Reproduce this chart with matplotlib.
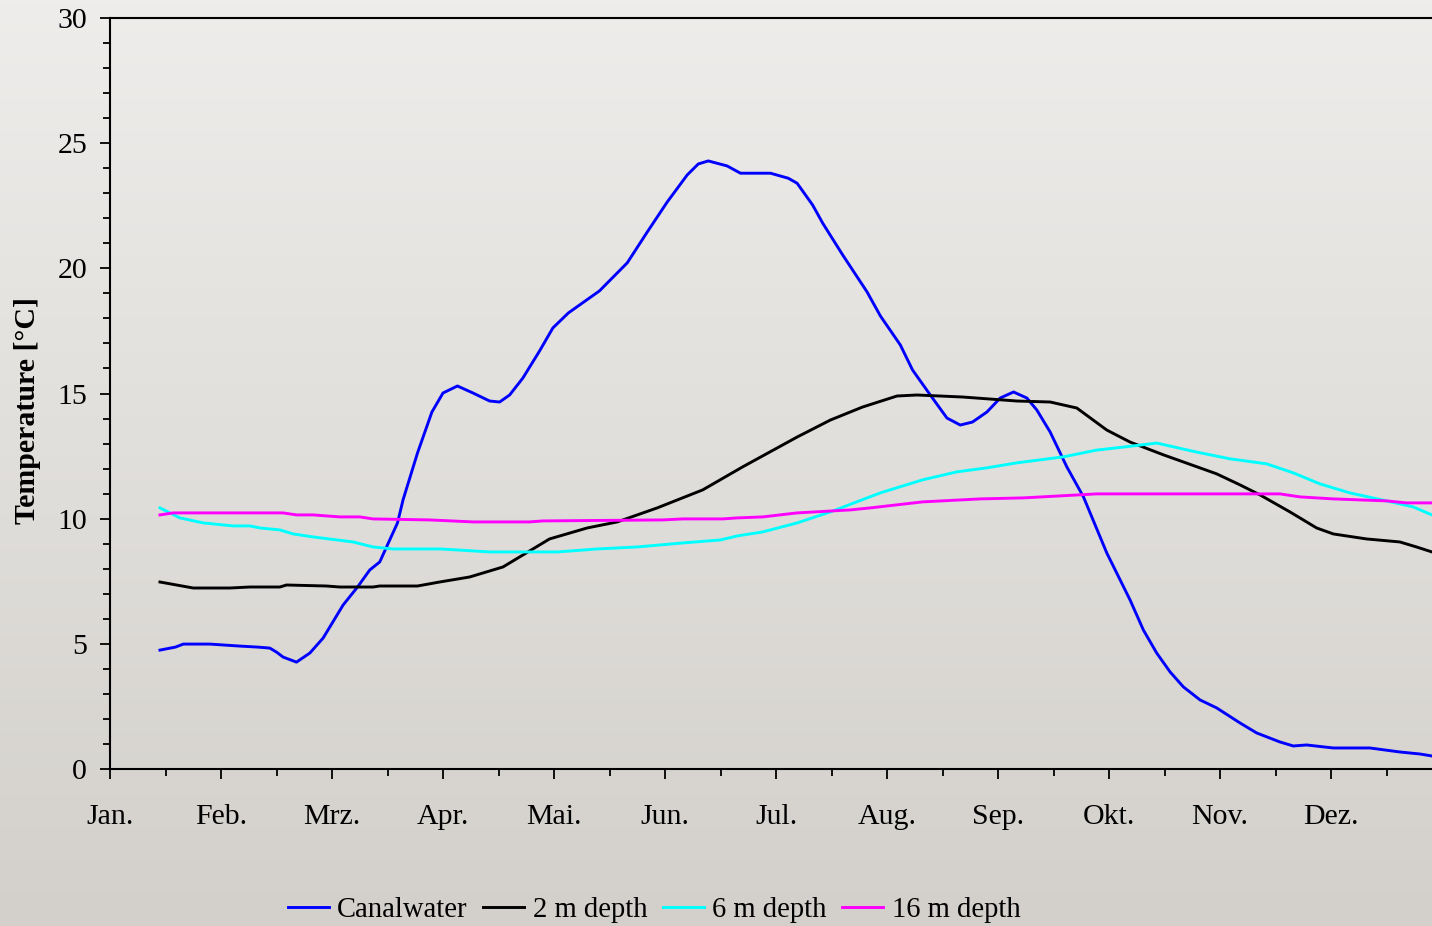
import numpy as np
import matplotlib
matplotlib.use("Agg")
import matplotlib.pyplot as plt
from matplotlib.ticker import FixedLocator, FixedFormatter, MultipleLocator

plt.rcParams["font.family"] = ["Liberation Serif", "DejaVu Serif"]

# Month axis: 0 = start of January, 12 = end of December
months = ["Jan.", "Feb.", "Mrz.", "Apr.", "Mai.", "Jun.", "Jul.",
          "Aug.", "Sep.", "Okt.", "Nov.", "Dez."]

# Canal water temperature [°C]
canal_x = [0.45, 0.59, 0.66, 0.90, 1.17, 1.33, 1.44, 1.50, 1.56, 1.68, 1.80, 1.92,
           2.10, 2.23, 2.34, 2.43, 2.52, 2.59, 2.64, 2.77, 2.90, 3.00, 3.13, 3.27,
           3.42, 3.51, 3.60, 3.72, 3.87, 3.99, 4.13, 4.41, 4.66, 4.84, 5.02, 5.20,
           5.30, 5.39, 5.56, 5.68, 5.95, 6.11, 6.19, 6.33, 6.42, 6.60, 6.82, 6.94,
           7.12, 7.23, 7.39, 7.54, 7.66, 7.77, 7.90, 8.02, 8.14, 8.26, 8.35, 8.47,
           8.62, 8.77, 8.98, 9.19, 9.31, 9.43, 9.55, 9.67, 9.82, 9.97, 10.18, 10.33,
           10.54, 10.66, 10.78, 11.02, 11.19, 11.35, 11.62, 11.80, 11.91]
canal_t = [4.75, 4.87, 4.99, 4.99, 4.91, 4.87, 4.83, 4.67, 4.47, 4.27, 4.63, 5.23,
           6.55, 7.27, 7.95, 8.27, 9.15, 9.83, 10.75, 12.62, 14.26, 15.02, 15.30, 15.02,
           14.70, 14.66, 14.94, 15.62, 16.70, 17.62, 18.22, 19.10, 20.22, 21.45, 22.65, 23.73,
           24.17, 24.29, 24.09, 23.80, 23.80, 23.60, 23.40, 22.53, 21.81, 20.54, 19.06, 18.10,
           16.94, 15.94, 14.94, 14.02, 13.74, 13.86, 14.26, 14.82, 15.06, 14.82, 14.34, 13.46,
           12.07, 10.87, 8.63, 6.75, 5.55, 4.63, 3.88, 3.28, 2.76, 2.44, 1.84, 1.44,
           1.08, 0.92, 0.96, 0.84, 0.84, 0.84, 0.68, 0.60, 0.52]

# Ground temperature at 2 m depth [°C]
d2_x = [0.45, 0.75, 1.08, 1.26, 1.53, 1.59, 1.95, 2.07, 2.37, 2.43, 2.77, 2.97,
        3.24, 3.54, 3.72, 3.96, 4.30, 4.57, 4.93, 5.34, 5.70, 6.19, 6.49, 6.78,
        7.09, 7.27, 7.68, 8.17, 8.47, 8.71, 8.98, 9.19, 9.49, 9.97, 10.18, 10.36,
        10.63, 10.87, 11.02, 11.32, 11.62, 11.77, 11.91]
d2_t = [7.47, 7.23, 7.23, 7.27, 7.27, 7.35, 7.31, 7.27, 7.27, 7.31, 7.31, 7.47,
        7.67, 8.07, 8.55, 9.19, 9.63, 9.87, 10.43, 11.15, 12.07, 13.26, 13.94, 14.46,
        14.90, 14.94, 14.86, 14.70, 14.66, 14.42, 13.54, 13.06, 12.55, 11.79, 11.35, 10.95,
        10.27, 9.63, 9.39, 9.19, 9.07, 8.87, 8.67]

# Ground temperature at 6 m depth [°C]
d6_x = [0.45, 0.63, 0.84, 1.11, 1.26, 1.35, 1.53, 1.65, 1.83, 2.19, 2.37, 2.55,
        2.97, 3.13, 3.42, 4.03, 4.39, 4.75, 5.16, 5.50, 5.65, 5.88, 6.19, 6.49,
        6.94, 7.32, 7.63, 7.90, 8.17, 8.59, 8.89, 9.13, 9.43, 9.79, 10.09, 10.42,
        10.66, 10.90, 11.17, 11.50, 11.74, 11.91]
d6_t = [10.43, 10.03, 9.83, 9.71, 9.71, 9.63, 9.55, 9.39, 9.27, 9.07, 8.87, 8.79,
        8.79, 8.75, 8.67, 8.67, 8.79, 8.87, 9.03, 9.15, 9.31, 9.47, 9.83, 10.27,
        11.03, 11.55, 11.87, 12.03, 12.23, 12.47, 12.74, 12.86, 13.02, 12.66, 12.39, 12.19,
        11.83, 11.39, 11.03, 10.71, 10.47, 10.15]

# Ground temperature at 16 m depth [°C]
d16_x = [0.45, 0.57, 1.41, 1.56, 1.68, 1.83, 2.07, 2.25, 2.37, 2.88, 3.27, 3.78,
         3.90, 4.98, 5.16, 5.52, 5.65, 5.88, 6.19, 6.67, 6.85, 7.32, 7.84, 8.23,
         8.89, 10.54, 10.72, 11.02, 11.50, 11.68, 11.91]
d16_t = [10.15, 10.23, 10.23, 10.23, 10.15, 10.15, 10.07, 10.07, 9.99, 9.95, 9.87, 9.87,
         9.91, 9.95, 9.99, 9.99, 10.03, 10.07, 10.23, 10.35, 10.43, 10.67, 10.79, 10.83,
         10.99, 10.99, 10.87, 10.79, 10.71, 10.63, 10.63]

W, H = 1432, 926
fig = plt.figure(figsize=(W / 100, H / 100), dpi=100)

# Soft vertical background gradient behind everything
bg = fig.add_axes([0, 0, 1, 1], zorder=-10)
top_col = np.array([238, 237, 235]) / 255.0
bot_col = np.array([211, 208, 203]) / 255.0
ramp = np.linspace(0, 1, 256)[:, None]
grad = top_col[None, :] * (1 - ramp) + bot_col[None, :] * ramp
bg.imshow(grad[:, None, :], aspect="auto", extent=[0, 1, 0, 1], origin="upper")
bg.set_axis_off()

# Plot area (the December end reaches past the right figure edge)
ax_left, ax_bottom = 110 / W, (H - 769) / H
ax = fig.add_axes([ax_left, ax_bottom, 1332 / W, 751 / H])
ax.set_facecolor("none")

lw = 2.1
ax.plot(canal_x, canal_t, color="#0000ff", lw=lw, label="Canalwater")
ax.plot(d2_x, d2_t, color="#000000", lw=lw, label="2 m depth")
ax.plot(d6_x, d6_t, color="#00ffff", lw=lw, label="6 m depth")
ax.plot(d16_x, d16_t, color="#ff00ff", lw=lw, label="16 m depth")

ax.set_xlim(0, 12)
ax.set_ylim(0, 30)

ax.xaxis.set_major_locator(FixedLocator(list(range(13))))
ax.xaxis.set_major_formatter(FixedFormatter(months + [""]))
ax.xaxis.set_minor_locator(MultipleLocator(0.5))
ax.yaxis.set_major_locator(MultipleLocator(5))
ax.yaxis.set_minor_locator(MultipleLocator(1))

for s in ax.spines.values():
    s.set_linewidth(1.5)
    s.set_color("black")

ax.tick_params(axis="both", which="major", direction="out", length=7.5,
               width=1.3, labelsize=21.5, colors="black")
ax.tick_params(axis="both", which="minor", direction="out", length=5.2,
               width=1.3)
ax.tick_params(axis="x", which="major", pad=18)
ax.tick_params(axis="y", which="major", pad=9)

ax.set_ylabel("Temperature [°C]", fontsize=21.5, fontweight="bold")
ax.yaxis.set_label_coords(-0.052, 0.478)

leg = fig.legend(loc="center left", bbox_to_anchor=(288 / W, 1 - 910 / H),
                 ncol=4, frameon=False, fontsize=20.6, handlelength=1.42,
                 handletextpad=0.3, columnspacing=0.55, borderaxespad=0,
                 borderpad=0)

fig.savefig("out.png", dpi=100)
